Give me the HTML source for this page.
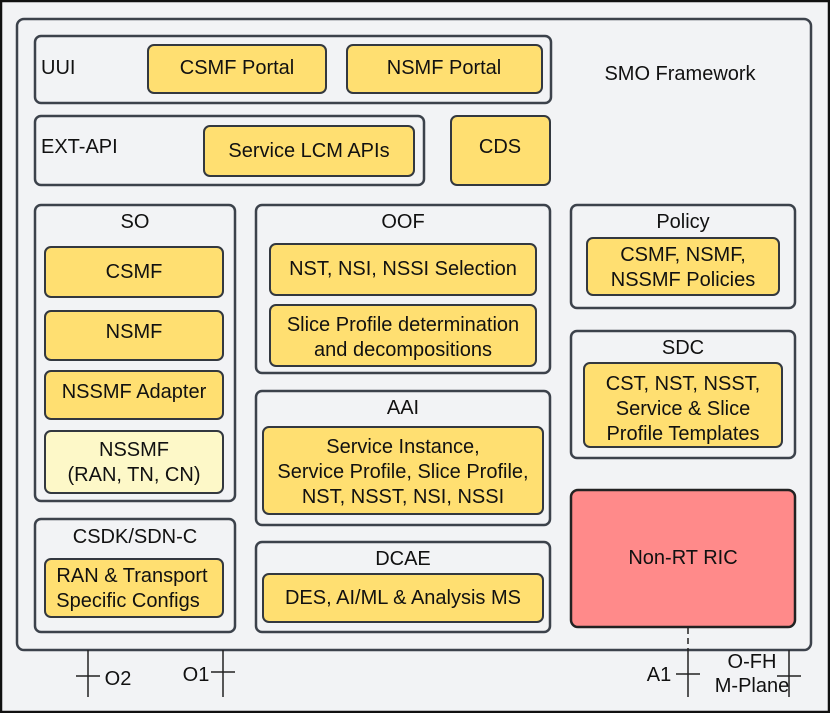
<!DOCTYPE html>
<html><head><meta charset="utf-8"><style>
html,body{margin:0;padding:0;background:#fff}
svg{display:block}
text{font-family:"Liberation Sans",sans-serif;font-size:20px;fill:#111;text-anchor:middle}
.c{fill:#f2f3f5;stroke:#3c424b;stroke-width:2.5}
.y{fill:#ffdf71;stroke:#33383f;stroke-width:2}
.l{stroke:#222;stroke-width:1.5;fill:none}
</style></head><body>
<svg width="830" height="713" viewBox="0 0 830 713">
<rect x="1" y="1" width="828" height="711" fill="#f2f3f5" stroke="#111" stroke-width="2.5"/>
<rect class="c" x="17" y="19" width="794" height="631" rx="7"/>
<text x="680" y="80">SMO Framework</text>

<rect class="c" x="35" y="36" width="516" height="67" rx="6"/>
<text x="41" y="74" style="text-anchor:start">UUI</text>
<rect class="y" x="148" y="45" width="178" height="48" rx="6"/><text x="237" y="74">CSMF Portal</text>
<rect class="y" x="347" y="45" width="195" height="48" rx="6"/><text x="444" y="74">NSMF Portal</text>

<rect class="c" x="35" y="116" width="389" height="69" rx="6"/>
<text x="41" y="153" style="text-anchor:start">EXT-API</text>
<rect class="y" x="204" y="126" width="210" height="50" rx="6"/><text x="309" y="157">Service LCM APIs</text>
<rect class="y" x="451" y="116" width="99" height="69" rx="6"/><text x="500" y="153">CDS</text>

<rect class="c" x="35" y="205" width="200" height="296" rx="6"/>
<text x="135" y="228">SO</text>
<rect class="y" x="45" y="247" width="178" height="50" rx="6"/><text x="134" y="278">CSMF</text>
<rect class="y" x="45" y="311" width="178" height="49" rx="6"/><text x="134" y="338">NSMF</text>
<rect class="y" x="45" y="371" width="178" height="48" rx="6"/><text x="134" y="398">NSSMF Adapter</text>
<rect class="y" x="45" y="431" width="178" height="62" rx="6" style="fill:#fdf8c8"/><text x="134" y="456">NSSMF</text><text x="134" y="481">(RAN, TN, CN)</text>

<rect class="c" x="35" y="519" width="200" height="113" rx="6"/>
<text x="135" y="543">CSDK/SDN-C</text>
<rect class="y" x="45" y="559" width="178" height="58" rx="6"/><text x="132" y="582">RAN &amp; Transport</text><text x="128" y="607">Specific Configs</text>

<rect class="c" x="256" y="205" width="294" height="168" rx="6"/>
<text x="403" y="228">OOF</text>
<rect class="y" x="270" y="244" width="266" height="51" rx="6"/><text x="403" y="275">NST, NSI, NSSI Selection</text>
<rect class="y" x="270" y="305" width="266" height="61" rx="6"/><text x="403" y="331">Slice Profile determination</text><text x="403" y="356">and decompositions</text>

<rect class="c" x="256" y="391" width="294" height="134" rx="6"/>
<text x="403" y="414">AAI</text>
<rect class="y" x="263" y="427" width="280" height="87" rx="6"/><text x="403" y="453">Service Instance,</text><text x="403" y="478">Service Profile, Slice Profile,</text><text x="403" y="503">NST, NSST, NSI, NSSI</text>

<rect class="c" x="256" y="542" width="294" height="90" rx="6"/>
<text x="403" y="565">DCAE</text>
<rect class="y" x="263" y="574" width="280" height="48" rx="6"/><text x="403" y="604">DES, AI/ML &amp; Analysis MS</text>

<rect class="c" x="571" y="205" width="224" height="103" rx="6"/>
<text x="683" y="228">Policy</text>
<rect class="y" x="587" y="238" width="192" height="57" rx="6"/><text x="683" y="261">CSMF, NSMF,</text><text x="683" y="286">NSSMF Policies</text>

<rect class="c" x="571" y="331" width="224" height="127" rx="6"/>
<text x="683" y="354">SDC</text>
<rect class="y" x="584" y="363" width="198" height="84" rx="6"/><text x="683" y="390">CST, NST, NSST,</text><text x="683" y="415">Service &amp; Slice</text><text x="683" y="440">Profile Templates</text>

<rect x="571" y="490" width="224" height="137" rx="7" fill="#ff8a8a" stroke="#222" stroke-width="2.5"/>
<text x="683" y="564">Non-RT RIC</text>

<line class="l" x1="688" y1="628" x2="688" y2="650" stroke-dasharray="6,4"/>
<line class="l" x1="688" y1="650" x2="688" y2="697"/><line class="l" x1="676" y1="674" x2="700" y2="674"/>
<text x="659" y="681">A1</text>
<line class="l" x1="88" y1="650" x2="88" y2="697"/><line class="l" x1="76" y1="676" x2="100" y2="676"/>
<text x="118" y="685">O2</text>
<line class="l" x1="223" y1="650" x2="223" y2="697"/><line class="l" x1="211" y1="672" x2="235" y2="672"/>
<text x="196" y="681">O1</text>
<line class="l" x1="789" y1="650" x2="789" y2="697"/><line class="l" x1="777" y1="676" x2="801" y2="676"/>
<text x="752" y="668">O-FH</text><text x="752" y="692">M-Plane</text>
</svg>
</body></html>
